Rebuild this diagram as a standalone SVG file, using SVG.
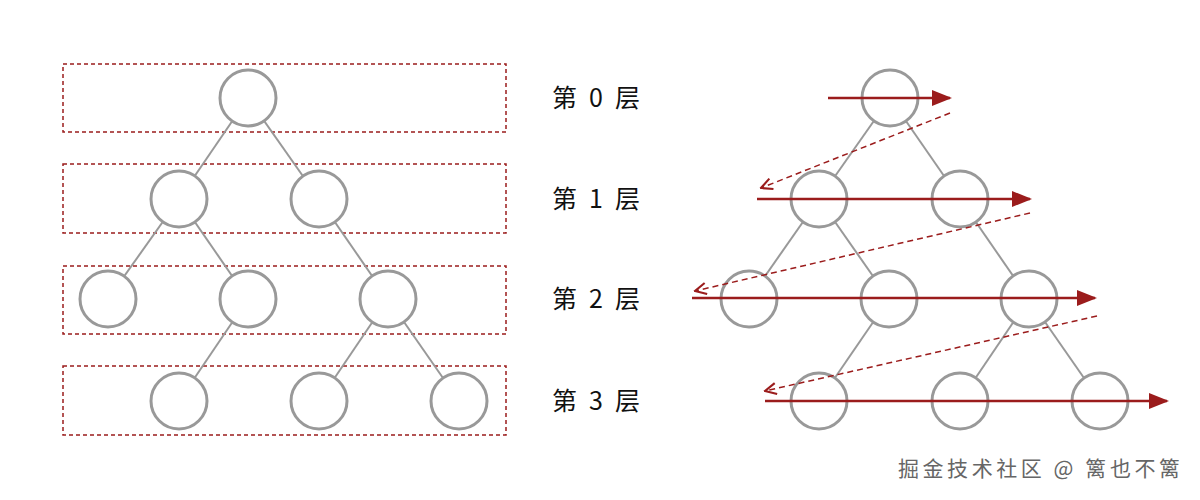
<svg xmlns="http://www.w3.org/2000/svg" width="1200" height="500" viewBox="0 0 1200 500">
<style>
.n{fill:#fff;stroke:#999;stroke-width:3}
.e{stroke:#999;stroke-width:2}
.box{fill:none;stroke:#9b1c1c;stroke-width:1.5;stroke-dasharray:4 3}
.t{font-family:"Noto Sans CJK SC","Noto Sans",sans-serif;font-size:25px;fill:#111}
.a{stroke:#9b1c1c;stroke-width:2.5;fill:none}
.d{stroke:#9b1c1c;stroke-width:1.5;fill:none;stroke-dasharray:6 4}
.w{font-family:"Noto Sans CJK SC",sans-serif;font-size:21px;fill:#666}
</style>
<defs>
<marker id="big" viewBox="0 0 10 10" refX="9" refY="5" markerWidth="20" markerHeight="16" markerUnits="userSpaceOnUse" orient="auto" preserveAspectRatio="none"><path d="M0,0 L10,5 L0,10 z" fill="#9b1c1c"/></marker>
<marker id="open" viewBox="0 0 10 10" refX="9" refY="5" markerWidth="14" markerHeight="14" markerUnits="userSpaceOnUse" orient="auto"><path d="M1,1 L9,5 L1,9" fill="none" stroke="#9b1c1c" stroke-width="1.5"/></marker>
</defs>
<g id="layers">
<rect class="box" x="63" y="64" width="443" height="68"/>
<rect class="box" x="63" y="164" width="443" height="69"/>
<rect class="box" x="63" y="266" width="443" height="68"/>
<rect class="box" x="63" y="366" width="443" height="69"/>
</g>
<g id="connectors">
<line class="e" x1="248" y1="98" x2="179" y2="199"/><line class="e" x1="248" y1="98" x2="319" y2="199"/>
<line class="e" x1="179" y1="199" x2="108" y2="299"/><line class="e" x1="179" y1="199" x2="248" y2="299"/>
<line class="e" x1="319" y1="199" x2="388" y2="299"/><line class="e" x1="248" y1="299" x2="179" y2="401"/>
<line class="e" x1="388" y1="299" x2="319" y2="401"/><line class="e" x1="388" y1="299" x2="459" y2="401"/>
<line class="e" x1="890" y1="98" x2="819" y2="199"/><line class="e" x1="890" y1="98" x2="960" y2="199"/>
<line class="e" x1="819" y1="199" x2="749" y2="299"/><line class="e" x1="819" y1="199" x2="889" y2="299"/>
<line class="e" x1="960" y1="199" x2="1029" y2="299"/><line class="e" x1="889" y1="299" x2="819" y2="401"/>
<line class="e" x1="1029" y1="299" x2="960" y2="401"/><line class="e" x1="1029" y1="299" x2="1100" y2="401"/>
</g>
<g id="left-nodes">
<circle id="l0" class="n" cx="248" cy="98" r="28"/>
<circle id="l1a" class="n" cx="179" cy="199" r="28"/><circle id="l1b" class="n" cx="319" cy="199" r="28"/>
<circle id="l2a" class="n" cx="108" cy="299" r="28"/><circle id="l2b" class="n" cx="248" cy="299" r="28"/><circle id="l2c" class="n" cx="388" cy="299" r="28"/>
<circle id="l3a" class="n" cx="179" cy="401" r="28"/><circle id="l3b" class="n" cx="319" cy="401" r="28"/><circle id="l3c" class="n" cx="459" cy="401" r="28"/>
</g>
<g id="right-nodes">
<circle id="r0" class="n" cx="890" cy="98" r="28"/>
<circle id="r1a" class="n" cx="819" cy="199" r="28"/><circle id="r1b" class="n" cx="960" cy="199" r="28"/>
<circle id="r2a" class="n" cx="749" cy="299" r="28"/><circle id="r2b" class="n" cx="889" cy="299" r="28"/><circle id="r2c" class="n" cx="1029" cy="299" r="28"/>
<circle id="r3a" class="n" cx="819" cy="401" r="28"/><circle id="r3b" class="n" cx="960" cy="401" r="28"/><circle id="r3c" class="n" cx="1100" cy="401" r="28"/>
</g>
<g id="traversal">
<line class="a" x1="828" y1="98" x2="950" y2="98" marker-end="url(#big)"/>
<line class="a" x1="757" y1="199" x2="1030" y2="199" marker-end="url(#big)"/>
<line class="a" x1="692" y1="298" x2="1095" y2="298" marker-end="url(#big)"/>
<line class="a" x1="765" y1="401" x2="1167" y2="401" marker-end="url(#big)"/>
<line class="d" x1="950" y1="113" x2="761" y2="188" marker-end="url(#open)"/>
<line class="d" x1="1030" y1="213" x2="695" y2="291" marker-end="url(#open)"/>
<line class="d" x1="1097" y1="316" x2="765" y2="391" marker-end="url(#open)"/>
</g>
<g id="labels">
<text class="t" x="552" y="107" textLength="88">第 0 层</text>
<text class="t" x="552" y="208" textLength="88">第 1 层</text>
<text class="t" x="552" y="308" textLength="88">第 2 层</text>
<text class="t" x="552" y="410" textLength="88">第 3 层</text>
</g>
<text class="w" x="898" y="476" textLength="282">掘金技术社区 @ 篱也不篱</text>
</svg>
